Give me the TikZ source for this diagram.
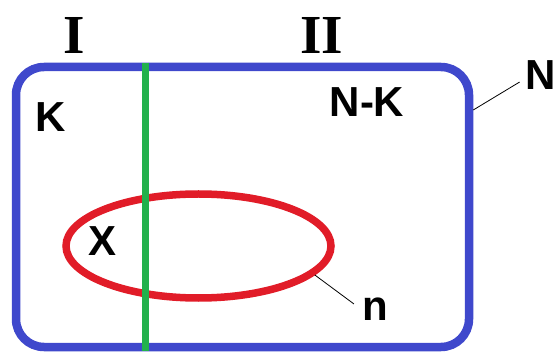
\documentclass[tikz,border=0pt]{standalone}
\usepackage{fontspec}
\setmainfont{Liberation Serif}
\setsansfont{Liberation Sans}
\usepackage{xcolor}
\usepackage{tikz}
\usetikzlibrary{shapes.geometric}
\definecolor{paintblue}{RGB}{63,72,204}
\definecolor{paintred}{RGB}{225,28,40}
\definecolor{paintgreen}{RGB}{34,177,76}
\tikzset{
  setbox/.style={rectangle, rounded corners=28pt, draw=paintblue, line width=8.5pt,
                 minimum width=453pt, minimum height=280pt, inner sep=0pt},
  subset/.style={ellipse, draw=paintred, line width=7.5pt,
                 minimum width=265pt, minimum height=104pt, inner sep=0pt},
  divider/.style={draw=paintgreen, line width=7pt},
  leader/.style={draw=black, line width=0.8pt},
  part/.style={font=\rmfamily\bfseries\fontsize{55}{55}\selectfont, inner sep=0pt},
  lbl/.style={font=\sffamily\bfseries\fontsize{42}{42}\selectfont, inner sep=0pt},
}
\begin{document}
\begin{tikzpicture}[x=1pt,y=-1pt]
  \useasboundingbox (0,0) rectangle (556,352);

  % ---- population and sample ----
  \node[setbox] (box) at (242.5,207) {};
  \node[subset] (sample) at (198.5,246) {};
  \coordinate (cut) at (145,207);
  \draw[divider] (cut |- box.north) -- (cut |- box.south);

  % ---- parts ----
  \node[part] (partI) at (74,35) {I};
  \node[part] (partII) at (322,35) {II};

  % ---- labels ----
  \node[lbl] (K) at (51,117) {K};
  \node[lbl] (NK) at (367,102) {N-K};
  \node[lbl] (X) at (103,241) {X};
  \node[lbl] (nlbl) at (375,309) {n};
  \node[lbl] (Nlbl) at (541,75) {N};

  \draw[leader] (box.east |- 0,110) -- ([shift={(-6,7)}]Nlbl.west);
  \draw[leader] (sample.-14) -- ([shift={(-8,-5)}]nlbl.west);
\end{tikzpicture}
\end{document}
